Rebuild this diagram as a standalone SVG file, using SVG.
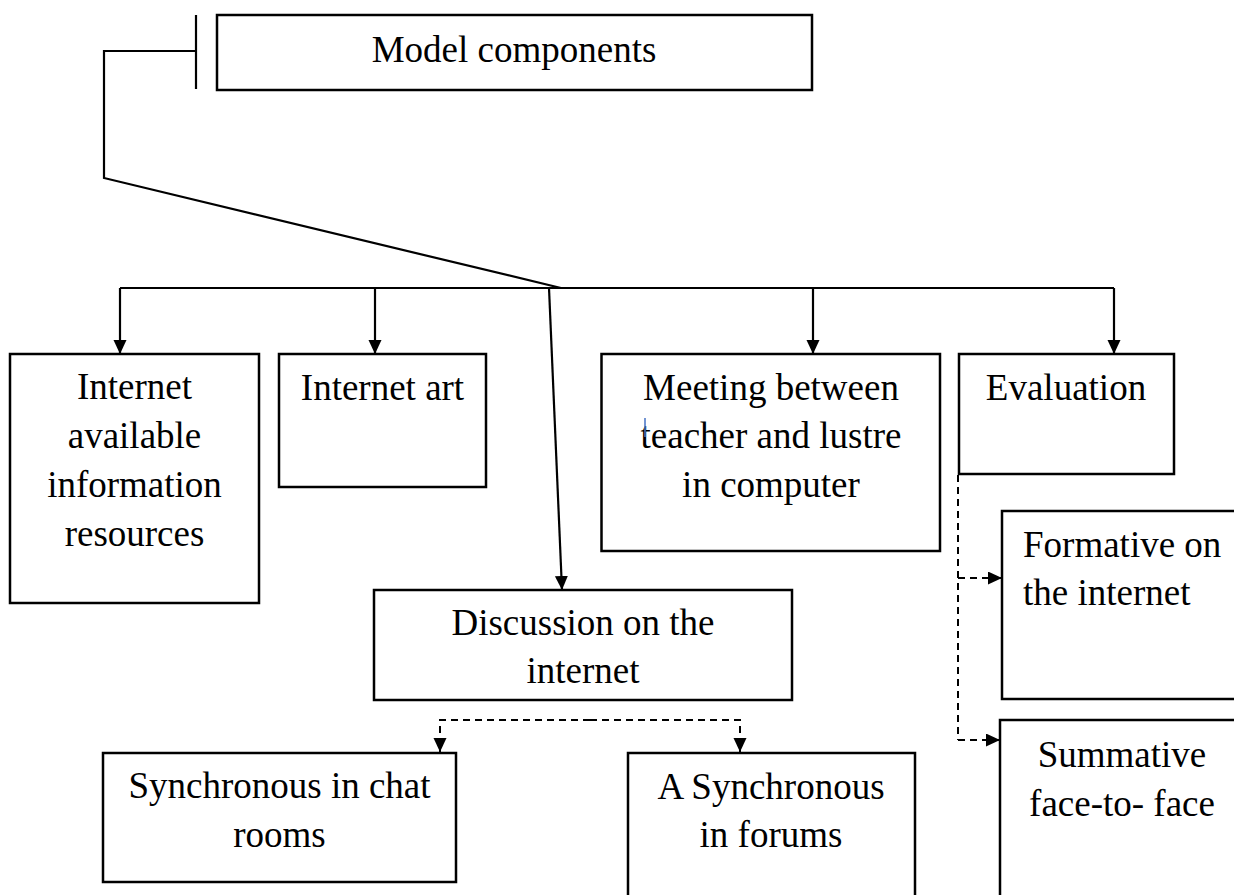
<svg xmlns="http://www.w3.org/2000/svg" width="1234" height="895" viewBox="0 0 1234 895">
<defs>
<style>
.box{fill:#fff;stroke:#000;stroke-width:2.5}
.t{font-family:"Liberation Serif","Times New Roman",serif;font-size:37px;fill:#000}
.c{text-anchor:middle}
.ln{fill:none;stroke:#000;stroke-width:2.2}
.dash{fill:none;stroke:#000;stroke-width:2;stroke-dasharray:7 5}
</style>
<marker id="ah" markerUnits="userSpaceOnUse" markerWidth="15" markerHeight="14" refX="14" refY="6.5" orient="auto">
<path d="M0,0 L14,6.5 L0,13 Z" fill="#000"/>
</marker>
</defs>
<rect width="1234" height="895" fill="#fff"/>
<g id="connectors">
<line class="ln" x1="196" y1="15" x2="196" y2="89"/>
<path class="ln" d="M196,51 H104 V178 L561,288"/>
<path class="ln" d="M120,288 H1114"/>
<line class="ln" x1="120" y1="288" x2="120" y2="354" marker-end="url(#ah)"/>
<line class="ln" x1="375" y1="288" x2="375" y2="354" marker-end="url(#ah)"/>
<line class="ln" x1="813" y1="288" x2="813" y2="354" marker-end="url(#ah)"/>
<line class="ln" x1="1114" y1="288" x2="1114" y2="354" marker-end="url(#ah)"/>
<line class="ln" x1="549" y1="288" x2="562" y2="590" marker-end="url(#ah)"/>
<path class="dash" d="M590,720 H440 V752" marker-end="url(#ah)"/>
<path class="dash" d="M590,720 H740 V752" marker-end="url(#ah)"/>
<path class="dash" d="M958,475 V740"/>
<path class="dash" d="M958,578 H1002" marker-end="url(#ah)"/>
<path class="dash" d="M958,740 H1000" marker-end="url(#ah)"/>
</g>
<g id="model-components">
<rect class="box" x="217" y="15" width="595" height="75"/>
<text class="t c" x="514" y="62">Model components</text>
</g>
<g id="internet-resources">
<rect class="box" x="10" y="354" width="249" height="249"/>
<text class="t c" x="134.5" y="399">Internet</text>
<text class="t c" x="134.5" y="448">available</text>
<text class="t c" x="134.5" y="497">information</text>
<text class="t c" x="134.5" y="546">resources</text>
</g>
<g id="internet-art">
<rect class="box" x="279" y="354" width="207" height="133"/>
<text class="t c" x="382.5" y="400">Internet art</text>
</g>
<g id="meeting">
<rect class="box" x="601.5" y="354" width="338.5" height="197"/>
<text class="t c" x="771" y="400">Meeting between</text>
<text class="t c" x="771" y="448">teacher and lustre</text>
<text class="t c" x="771" y="497">in computer</text>
<line x1="645" y1="418" x2="645" y2="437" stroke="#4472c4" stroke-width="1.5"/>
</g>
<g id="evaluation">
<rect class="box" x="959" y="354" width="215" height="120"/>
<text class="t c" x="1066" y="400">Evaluation</text>
</g>
<g id="formative">
<rect class="box" x="1002" y="511" width="250" height="188"/>
<text class="t" x="1023" y="557">Formative on</text>
<text class="t" x="1023" y="605">the internet</text>
</g>
<g id="summative">
<rect class="box" x="1000" y="720" width="250" height="200"/>
<text class="t c" x="1122" y="767">Summative</text>
<text class="t c" x="1122" y="816">face-to- face</text>
</g>
<g id="discussion">
<rect class="box" x="374" y="590" width="418" height="110"/>
<text class="t c" x="583" y="635">Discussion on the</text>
<text class="t c" x="583" y="683">internet</text>
</g>
<g id="sync-chat">
<rect class="box" x="103" y="753" width="353" height="129"/>
<text class="t c" x="279.5" y="798">Synchronous in chat</text>
<text class="t c" x="279.5" y="847">rooms</text>
</g>
<g id="async-forums">
<rect class="box" x="628" y="753" width="287" height="170"/>
<text class="t c" x="771" y="799">A Synchronous</text>
<text class="t c" x="771" y="847">in forums</text>
</g>
</svg>
